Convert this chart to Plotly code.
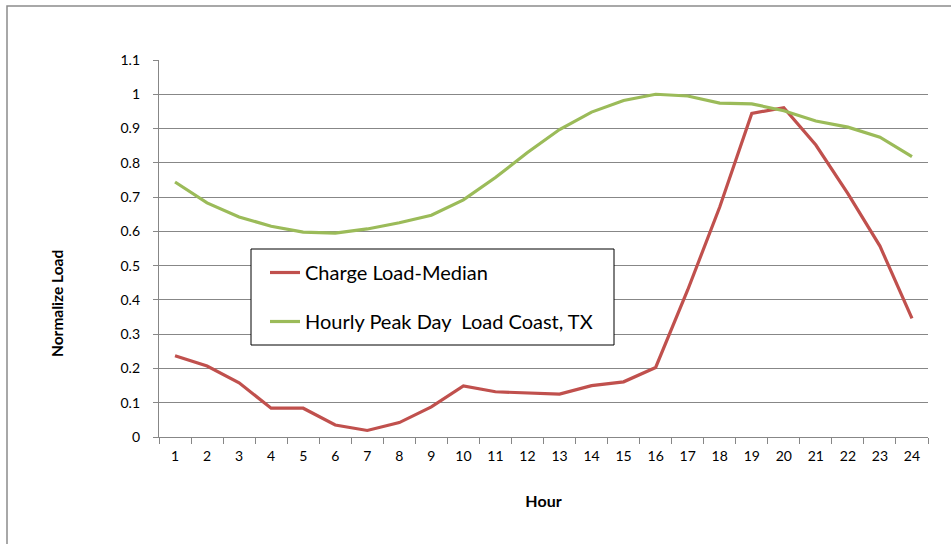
import plotly.graph_objects as go

# Hour of day (categories on the x axis)
hours = [str(h) for h in range(1, 25)]

# Normalized load profiles
charge_load_median = [0.237, 0.207, 0.158, 0.084, 0.084, 0.035, 0.019, 0.042,
                      0.088, 0.149, 0.132, 0.129, 0.125, 0.150, 0.161, 0.203,
                      0.429, 0.671, 0.944, 0.961, 0.852, 0.710, 0.557, 0.346]
peak_day_coast_tx = [0.744, 0.683, 0.642, 0.615, 0.598, 0.595, 0.607, 0.625,
                     0.647, 0.692, 0.757, 0.830, 0.897, 0.948, 0.982, 1.000,
                     0.995, 0.974, 0.972, 0.952, 0.922, 0.904, 0.875, 0.818]

y_ticks = [round(0.1 * i, 1) for i in range(12)]
y_labels = ["0", "0.1", "0.2", "0.3", "0.4", "0.5", "0.6", "0.7", "0.8", "0.9", "1", "1.1"]

RED = "#C0504D"
GREEN = "#9BBB59"
GRID = "#878787"
FONT = "Lato, Carlito, Calibri, sans-serif"

# Plot-area geometry in pixels, used to place paper-referenced decorations
PLOT_L, PLOT_R, PLOT_T, PLOT_B = 159, 928, 60, 437


def px_x(px):
    return (px - PLOT_L) / (PLOT_R - PLOT_L)


def px_y(py):
    return (PLOT_B - py) / (PLOT_B - PLOT_T)


fig = go.Figure()
fig.add_trace(go.Scatter(
    x=hours, y=charge_load_median, mode="lines",
    name="Charge Load-Median",
    line=dict(color=RED, width=3.2),
    legendgroup="a",
))
fig.add_trace(go.Scatter(
    x=hours, y=peak_day_coast_tx, mode="lines",
    name="Hourly Peak Day\u00a0 Load Coast, TX",
    line=dict(color=GREEN, width=3.2),
    legendgroup="b",
))

# Outer chart frame
fig.add_shape(type="rect", xref="paper", yref="paper",
              x0=px_x(7), x1=1.2, y0=-0.4, y1=px_y(6),
              line=dict(color="#8c8c8c", width=1.5), layer="below")

# Legend frame (white box over the gridlines, legend entries drawn on top)
fig.add_shape(type="rect", xref="paper", yref="paper",
              x0=px_x(251), x1=px_x(614), y0=px_y(345), y1=px_y(249),
              line=dict(color="black", width=1), fillcolor="white", layer="above")

# Vertical axis title
fig.add_annotation(text="<b>Normalize Load</b>", xref="paper", yref="paper",
                   x=px_x(57), y=px_y(304), textangle=-90, showarrow=False,
                   xanchor="center", yanchor="middle",
                   font=dict(family=FONT, size=15.5, color="black"))

fig.update_layout(
    width=951, height=544,
    margin=dict(l=PLOT_L, r=951 - PLOT_R, t=PLOT_T, b=544 - PLOT_B),
    paper_bgcolor="white", plot_bgcolor="white",
    font=dict(family=FONT, size=14, color="black"),
    showlegend=True,
    legend=dict(
        x=px_x(265), y=px_y(253), xanchor="left", yanchor="top",
        borderwidth=0, bgcolor="rgba(0,0,0,0)",
        font=dict(family=FONT, size=20, color="black"),
        traceorder="grouped", tracegroupgap=20,
        itemwidth=30,
    ),
    xaxis=dict(
        type="category", categoryorder="array", categoryarray=hours,
        range=[-0.5, 23.5],
        showgrid=False, zeroline=False,
        showline=True, linecolor=GRID, linewidth=1.3,
        ticks="outside", tickson="boundaries", ticklen=6,
        tickcolor=GRID, tickwidth=1.3,
        ticklabelstandoff=6,
        tickfont=dict(family=FONT, size=14),
        title=dict(text="<b>Hour</b>", font=dict(family=FONT, size=16), standoff=32),
    ),
    yaxis=dict(
        range=[0, 1.1],
        tickvals=y_ticks, ticktext=y_labels,
        showgrid=True, gridcolor=GRID, gridwidth=1.3,
        zeroline=False,
        showline=True, linecolor=GRID, linewidth=1.3,
        ticks="outside", ticklen=5, tickcolor=GRID, tickwidth=1.3,
        ticklabelstandoff=10,
        tickfont=dict(family=FONT, size=14),
    ),
)

fig.write_html("out.html")
